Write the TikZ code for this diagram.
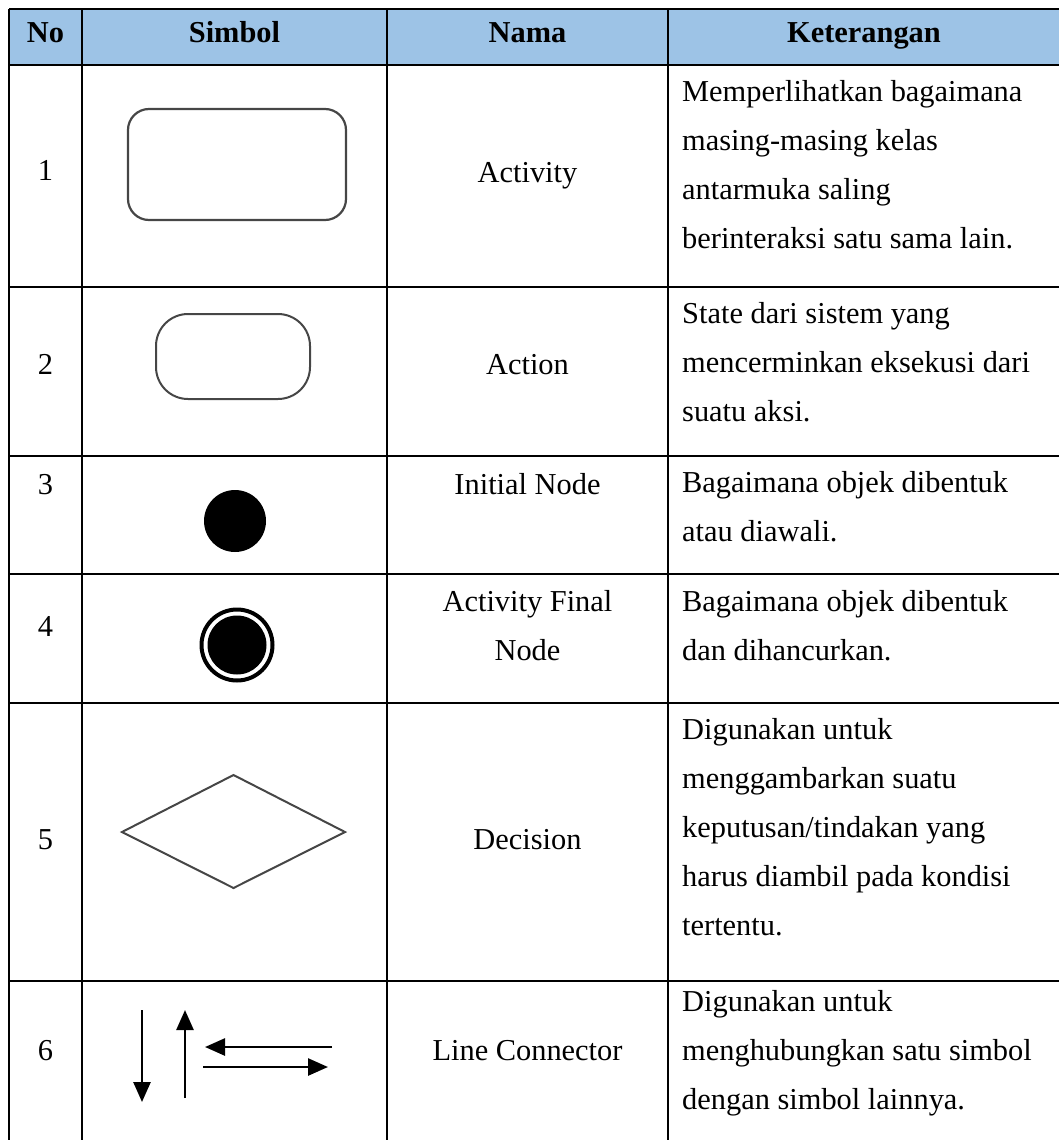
\documentclass[tikz,border=0pt]{standalone}
\usepackage{fontspec}
\setmainfont{Liberation Serif}
\usetikzlibrary{arrows.meta}
\definecolor{hdrblue}{RGB}{157,195,230}
\definecolor{symgray}{RGB}{70,70,70}
\begin{document}
\begin{tikzpicture}[x=1pt,y=-1pt,
  txt/.style={inner sep=0pt, font=\fontsize{30.4}{49}\selectfont},
  lt/.style={txt, anchor=base west},
  ct/.style={txt, anchor=base},
  hd/.style={inner sep=0pt, anchor=base, font=\fontsize{30.4}{49}\selectfont\bfseries},
  gridline/.style={line width=2.7pt, black},
  symline/.style={draw=symgray, line width=2.2pt},
  conn/.style={line width=2.6pt, -{Triangle[length=20pt,width=17pt]}}
]
\useasboundingbox (0,0) rectangle (1059,1140);
% header fill
\fill[hdrblue] (9,9) rectangle (1059,65);
% grid
\draw[gridline] (9,9) -- (1059,9);
\foreach \yy in {65,287,456,574,703,981} \draw[gridline] (9,\yy) -- (1059,\yy);
\foreach \xx in {9,82,387,668} \draw[gridline] (\xx,9) -- (\xx,1140);
% header
\node[hd] (hno) at (45.5,43) {No};
\node[hd] (hsim) at (234.5,43) {Simbol};
\node[hd] (hnam) at (527.5,43) {Nama};
\node[hd] (hket) at (864,43) {Keterangan};
% numbers
\node[ct] (n1) at (45.5,180) {1};
\node[ct] (n2) at (45.5,374) {2};
\node[ct] (n3) at (45.5,494) {3};
\node[ct] (n4) at (45.5,636) {4};
\node[ct] (n5) at (45.5,849) {5};
\node[ct] (n6) at (45.5,1060) {6};
% names
\node[ct] (m1) at (527.5,182) {Activity};
\node[ct] (m2) at (527.5,374) {Action};
\node[ct] (m3) at (527.5,494) {Initial Node};
\node[ct] (m4a) at (527.5,611) {Activity Final};
\node[ct] (m4b) at (527.5,660) {Node};
\node[ct] (m5) at (527.5,849) {Decision};
\node[ct] (m6) at (527.5,1060) {Line Connector};
% descriptions
\node[lt] (k1a) at (682,101) {Memperlihatkan bagaimana};
\node[lt] (k1b) at (682,150) {masing-masing kelas};
\node[lt] (k1c) at (682,199) {antarmuka saling};
\node[lt] (k1d) at (682,248) {berinteraksi satu sama lain.};
\node[lt] (k2a) at (682,323) {State dari sistem yang};
\node[lt] (k2b) at (682,372) {mencerminkan eksekusi dari};
\node[lt] (k2c) at (682,421) {suatu aksi.};
\node[lt] (k3a) at (682,492) {Bagaimana objek dibentuk};
\node[lt] (k3b) at (682,541) {atau diawali.};
\node[lt] (k4a) at (682,611) {Bagaimana objek dibentuk};
\node[lt] (k4b) at (682,660) {dan dihancurkan.};
\node[lt] (k5a) at (682,739) {Digunakan untuk};
\node[lt] (k5b) at (682,788) {menggambarkan suatu};
\node[lt] (k5c) at (682,837) {keputusan/tindakan yang};
\node[lt] (k5d) at (682,886) {harus diambil pada kondisi};
\node[lt] (k5e) at (682,935) {tertentu.};
\node[lt] (k6a) at (682,1011) {Digunakan untuk};
\node[lt] (k6b) at (682,1060) {menghubungkan satu simbol};
\node[lt] (k6c) at (682,1109) {dengan simbol lainnya.};
% symbols
\draw[symline, rounded corners=21pt] (128,109) rectangle (346,220);
\draw[symline, line width=2pt, rounded corners=32pt] (156,314) rectangle (310,399);
\fill[black] (235,521) circle (31);
\draw[black, line width=4pt] (237,645) circle (35.5);
\fill[black] (237,645) circle (29.5);
\draw[symline, line width=2pt] (122,832) -- (233.5,775) -- (345,832) -- (233.5,888) -- cycle;
% connectors
\coordinate (d1) at (142,1010); \coordinate (d2) at (142,1102);
\coordinate (u1) at (185,1098); \coordinate (u2) at (185,1010);
\coordinate (l1) at (332,1047); \coordinate (l2) at (205,1047);
\coordinate (r1) at (203,1067); \coordinate (r2) at (328,1067);
\draw[conn] (d1) -- (d2);
\draw[conn] (u1) -- (u2);
\draw[conn] (l1) -- (l2);
\draw[conn] (r1) -- (r2);
\end{tikzpicture}
\end{document}
